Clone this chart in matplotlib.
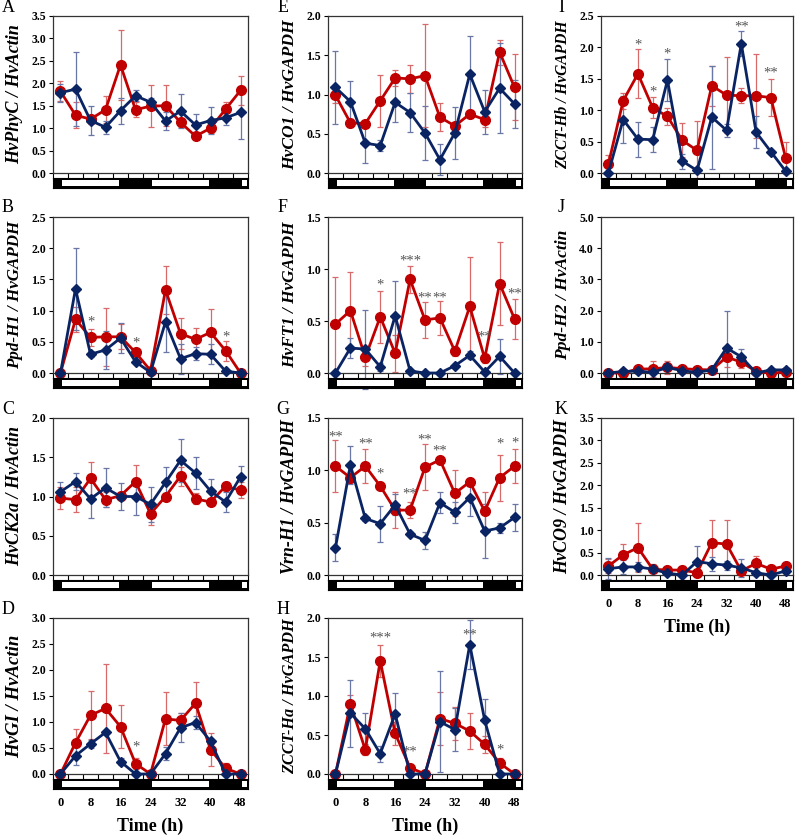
import matplotlib
matplotlib.use('Agg')
import matplotlib.pyplot as plt
from matplotlib.patches import Rectangle

plt.rcParams['font.family'] = ['Liberation Serif', 'DejaVu Serif']

# Sampling times (h) and light periods (start, end)
time_h = [0, 4, 8, 12, 16, 20, 24, 28, 32, 36, 40, 44, 48]
light_periods = [(0, 16), (24, 40), (48, 50)]

# A  HvPhyC / HvActin
A_red = [1.82, 1.29, 1.20, 1.41, 2.41, 1.41, 1.49, 1.50, 1.13, 0.82, 1.00, 1.42, 1.84]
A_red_err = [0.22, 0.29, 0.10, 0.30, 0.78, 0.17, 0.47, 0.46, 0.10, 0.05, 0.10, 0.17, 0.33]
A_blue = [1.79, 1.87, 1.17, 1.02, 1.39, 1.72, 1.58, 1.16, 1.38, 1.07, 1.17, 1.23, 1.35]
A_blue_err = [0.20, 0.82, 0.32, 0.14, 0.29, 0.12, 0.10, 0.21, 0.38, 0.24, 0.30, 0.17, 0.60]

# B  Ppd-H1 / HvGAPDH
B_red = [0.0, 0.86, 0.57, 0.58, 0.58, 0.33, 0.04, 1.33, 0.63, 0.54, 0.65, 0.36, 0.0]
B_red_err = [0.0, 0.20, 0.13, 0.46, 0.20, 0.05, 0.02, 0.38, 0.25, 0.18, 0.38, 0.16, 0.0]
B_blue = [0.0, 1.35, 0.30, 0.37, 0.56, 0.18, 0.01, 0.82, 0.23, 0.31, 0.30, 0.03, 0.0]
B_blue_err = [0.0, 0.66, 0.05, 0.30, 0.24, 0.04, 0.0, 0.48, 0.24, 0.10, 0.16, 0.02, 0.0]

# C  HvCK2a / HvActin
C_red = [0.98, 0.96, 1.23, 0.96, 1.01, 1.19, 0.78, 1.00, 1.26, 0.97, 0.93, 1.13, 1.08]
C_red_err = [0.14, 0.16, 0.21, 0.10, 0.05, 0.21, 0.14, 0.05, 0.12, 0.07, 0.04, 0.06, 0.10]
C_blue = [1.06, 1.19, 0.97, 1.11, 1.00, 1.00, 0.90, 1.18, 1.46, 1.30, 1.07, 0.93, 1.25]
C_blue_err = [0.12, 0.11, 0.24, 0.25, 0.17, 0.23, 0.22, 0.20, 0.27, 0.20, 0.15, 0.13, 0.14]

# D  HvGI / HvActin
D_red = [0.0, 0.60, 1.13, 1.26, 0.91, 0.20, 0.0, 1.06, 1.03, 1.36, 0.47, 0.11, 0.0]
D_red_err = [0.0, 0.27, 0.46, 0.85, 0.41, 0.10, 0.0, 0.51, 0.15, 0.40, 0.31, 0.10, 0.02]
D_blue = [0.0, 0.35, 0.58, 0.80, 0.24, 0.0, 0.0, 0.39, 0.89, 0.99, 0.63, 0.0, 0.0]
D_blue_err = [0.0, 0.17, 0.08, 0.02, 0.07, 0.0, 0.0, 0.12, 0.28, 0.12, 0.05, 0.0, 0.0]

# E  HvCO1 / HvGAPDH
E_red = [0.99, 0.64, 0.63, 0.92, 1.21, 1.20, 1.24, 0.71, 0.60, 0.75, 0.68, 1.54, 1.09]
E_red_err = [0.10, 0.05, 0.03, 0.33, 0.10, 0.18, 0.66, 0.18, 0.04, 0.05, 0.10, 0.16, 0.42]
E_blue = [1.09, 0.91, 0.38, 0.35, 0.90, 0.77, 0.51, 0.17, 0.51, 1.26, 0.78, 1.08, 0.88]
E_blue_err = [0.47, 0.26, 0.25, 0.07, 0.25, 0.25, 0.34, 0.20, 0.33, 0.48, 0.28, 0.57, 0.31]

# F  HvFT1 / HvGAPDH
F_red = [0.47, 0.60, 0.15, 0.54, 0.19, 0.90, 0.51, 0.53, 0.21, 0.64, 0.14, 0.86, 0.52]
F_red_err = [0.45, 0.37, 0.08, 0.25, 0.18, 0.13, 0.17, 0.16, 0.05, 0.48, 0.04, 0.40, 0.19]
F_blue = [0.0, 0.24, 0.23, 0.06, 0.55, 0.02, 0.0, 0.0, 0.07, 0.17, 0.01, 0.16, 0.0]
F_blue_err = [0.0, 0.10, 0.38, 0.04, 0.33, 0.01, 0.0, 0.0, 0.02, 0.04, 0.01, 0.17, 0.0]

# G  Vrn-H1 / HvGAPDH
G_red = [1.04, 0.93, 1.04, 0.85, 0.62, 0.62, 1.03, 1.10, 0.78, 0.89, 0.61, 0.93, 1.04]
G_red_err = [0.25, 0.05, 0.16, 0.03, 0.17, 0.08, 0.22, 0.03, 0.22, 0.04, 0.18, 0.22, 0.16]
G_blue = [0.26, 1.05, 0.54, 0.49, 0.67, 0.39, 0.33, 0.69, 0.60, 0.74, 0.42, 0.45, 0.55]
G_blue_err = [0.13, 0.18, 0.02, 0.17, 0.10, 0.02, 0.08, 0.10, 0.10, 0.18, 0.26, 0.05, 0.13]

# H  ZCCT-Ha / HvGAPDH
H_red = [0.0, 0.90, 0.31, 1.45, 0.52, 0.08, 0.0, 0.71, 0.65, 0.55, 0.38, 0.14, 0.0]
H_red_err = [0.0, 0.11, 0.06, 0.21, 0.15, 0.05, 0.0, 0.34, 0.21, 0.23, 0.11, 0.06, 0.03]
H_blue = [0.0, 0.78, 0.58, 0.26, 0.77, 0.0, 0.0, 0.67, 0.57, 1.66, 0.69, 0.0, 0.0]
H_blue_err = [0.0, 0.43, 0.20, 0.10, 0.27, 0.0, 0.0, 0.65, 0.28, 0.31, 0.27, 0.0, 0.0]

# I  ZCCT-Hb / HvGAPDH
I_red = [0.14, 1.15, 1.58, 1.04, 0.90, 0.52, 0.36, 1.39, 1.24, 1.23, 1.23, 1.20, 0.24]
I_red_err = [0.15, 0.13, 0.39, 0.17, 0.13, 0.27, 0.47, 0.32, 0.61, 0.12, 0.67, 0.30, 0.26]
I_blue = [0.0, 0.85, 0.54, 0.53, 1.48, 0.19, 0.04, 0.89, 0.68, 2.06, 0.65, 0.34, 0.03]
I_blue_err = [0.0, 0.37, 0.28, 0.20, 0.33, 0.12, 0.02, 0.82, 0.10, 0.20, 0.25, 0.03, 0.02]

# J  Ppd-H2 / HvActin
J_red = [0.0, 0.0, 0.13, 0.13, 0.18, 0.14, 0.11, 0.10, 0.51, 0.35, 0.05, 0.0, 0.03]
J_red_err = [0.0, 0.02, 0.05, 0.25, 0.22, 0.05, 0.04, 0.05, 0.31, 0.18, 0.03, 0.02, 0.03]
J_blue = [0.0, 0.05, 0.06, 0.02, 0.18, 0.07, 0.02, 0.10, 0.80, 0.52, 0.0, 0.10, 0.10]
J_blue_err = [0.0, 0.02, 0.03, 0.02, 0.05, 0.03, 0.01, 0.05, 1.20, 0.25, 0.0, 0.05, 0.05]

# K  HvCO9 / HvGAPDH
K_red = [0.20, 0.45, 0.61, 0.13, 0.11, 0.11, 0.05, 0.72, 0.69, 0.09, 0.26, 0.13, 0.20]
K_red_err = [0.15, 0.25, 0.54, 0.12, 0.05, 0.10, 0.02, 0.51, 0.53, 0.05, 0.17, 0.10, 0.10]
K_blue = [0.14, 0.18, 0.18, 0.13, 0.04, 0.0, 0.30, 0.25, 0.22, 0.16, 0.05, 0.0, 0.09]
K_blue_err = [0.24, 0.16, 0.10, 0.05, 0.02, 0.0, 0.35, 0.16, 0.10, 0.20, 0.02, 0.0, 0.04]

# significance marks: (time, y, text)
B_stars = [(8, 0.89, '*'), (20, 0.55, '*'), (44, 0.65, '*')]
D_stars = [(20, 0.59, '*')]
F_stars = [(12, 0.89, '*'), (20, 1.12, '***'), (24, 0.76, '**'), (28, 0.76, '**'),
           (40, 0.39, '**'), (48, 0.80, '**')]
G_stars = [(0, 1.36, '**'), (8, 1.29, '**'), (12, 1.00, '*'), (20, 0.81, '**'),
           (24, 1.33, '**'), (28, 1.22, '**'), (44, 1.29, '*'), (48, 1.30, '*')]
H_stars = [(12, 1.80, '***'), (20, 0.34, '**'), (36, 1.84, '**'), (44, 0.36, '*')]
I_stars = [(8, 2.10, '*'), (12, 1.35, '*'), (16, 1.96, '*'), (36, 2.39, '**'), (44, 1.66, '**')]

FIG_W, FIG_H = 797, 835
col_left = [53, 328, 601]
col_right = [248, 522, 793]
row_top = [16, 217, 418, 618]
row_bot = [173, 373, 575, 774]
letter_x = [8, 283, 561]

RED = '#c00000'
BLUE = '#0a2463'
RED_ERR = '#d96a6a'
BLUE_ERR = '#6877a6'

# letter, row, col, ylabel, label length (px), ymax, ystep, series..., stars, time label
panels = [
    ('A', 0, 0, 'HvPhyC / HvActin', 140, 3.5, 0.5, A_red, A_red_err, A_blue, A_blue_err, [], False),
    ('B', 1, 0, 'Ppd-H1 / HvGAPDH', 148, 2.5, 0.5, B_red, B_red_err, B_blue, B_blue_err, B_stars, False),
    ('C', 2, 0, 'HvCK2a / HvActin', 140, 2.0, 0.5, C_red, C_red_err, C_blue, C_blue_err, [], False),
    ('D', 3, 0, 'HvGI / HvActin', 135, 3.0, 0.5, D_red, D_red_err, D_blue, D_blue_err, D_stars, True),
    ('E', 0, 1, 'HvCO1 / HvGAPDH', 150, 2.0, 0.5, E_red, E_red_err, E_blue, E_blue_err, [], False),
    ('F', 1, 1, 'HvFT1 / HvGAPDH', 146, 1.5, 0.5, F_red, F_red_err, F_blue, F_blue_err, F_stars, False),
    ('G', 2, 1, 'Vrn-H1 / HvGAPDH', 154, 1.5, 0.5, G_red, G_red_err, G_blue, G_blue_err, G_stars, False),
    ('H', 3, 1, 'ZCCT-Ha / HvGAPDH', 155, 2.0, 0.5, H_red, H_red_err, H_blue, H_blue_err, H_stars, True),
    ('I', 0, 2, 'ZCCT-Hb / HvGAPDH', 148, 2.5, 0.5, I_red, I_red_err, I_blue, I_blue_err, I_stars, False),
    ('J', 1, 2, 'Ppd-H2 / HvActin', 130, 5.0, 1.0, J_red, J_red_err, J_blue, J_blue_err, [], False),
    ('K', 2, 2, 'HvCO9 / HvGAPDH', 155, 3.5, 0.5, K_red, K_red_err, K_blue, K_blue_err, [], True),
]

fig = plt.figure(figsize=(FIG_W / 100, FIG_H / 100), dpi=100)


def add_ax(left, top, right, bottom):
    return fig.add_axes([left / FIG_W, 1 - bottom / FIG_H,
                         (right - left) / FIG_W, (bottom - top) / FIG_H])


ylabels = []
for (letter, r, c, ylabel, label_len, ymax, ystep, red, red_err, blue, blue_err,
     stars, time_label) in panels:
    left, right = col_left[c], col_right[c]
    top, bot = row_top[r], row_bot[r]
    ax = add_ax(left, top, right, bot)

    ax.errorbar(time_h, red, yerr=red_err, fmt='none', ecolor=RED_ERR,
                elinewidth=0.9, capsize=2.4, capthick=0.9, clip_on=False, zorder=2)
    ax.errorbar(time_h, blue, yerr=blue_err, fmt='none', ecolor=BLUE_ERR,
                elinewidth=0.9, capsize=2.4, capthick=0.9, clip_on=False, zorder=2)
    ax.plot(time_h, red, color=RED, lw=2.0, marker='o', ms=7,
            clip_on=False, zorder=3)
    ax.plot(time_h, blue, color=BLUE, lw=2.0, marker='D', ms=4.8,
            clip_on=False, zorder=4)

    for tx, ty, txt in stars:
        ax.annotate(txt, (tx, ty), xytext=(0, -3), textcoords='offset points',
                    ha='center', va='center', fontsize=10.5, color='#555555')

    ax.set_xlim(-2, 50)
    ax.set_ylim(0, ymax)
    n = int(round(ymax / ystep))
    ax.set_yticks([i * ystep for i in range(n + 1)])
    ax.set_yticklabels(['%.1f' % (i * ystep) for i in range(n + 1)],
                       fontsize=8.5, fontweight='bold')
    ax.set_xticks(list(range(-2, 51, 4)))
    ax.set_xticklabels([])
    ax.tick_params(axis='y', direction='out', length=3, width=0.8, pad=2)
    ax.tick_params(axis='x', direction='out', length=4, width=0.8)
    for sp in ax.spines.values():
        sp.set_linewidth(0.9)
        sp.set_color('#333333')
    lab = ax.set_ylabel(ylabel, fontsize=12, fontweight='bold', style='italic')
    ax.yaxis.set_label_coords(-30 / (right - left), 0.5)
    ylabels.append((lab, label_len))

    fig.text(letter_x[c] / FIG_W, 1 - (top - 9) / FIG_H, letter,
             fontsize=13, ha='center', va='center')

    # light / dark strip
    sx = add_ax(left, bot + 5, right, bot + 15)
    sx.set_facecolor('black')
    for a, b in light_periods:
        sx.add_patch(Rectangle((a + 0.4, 0.18), b - a - 0.8, 0.64,
                               facecolor='white', edgecolor='none'))
    sx.set_xlim(-2, 50)
    sx.set_ylim(0, 1)
    sx.set_yticks([])
    for sp in sx.spines.values():
        sp.set_linewidth(0.8)
    if time_label:
        sx.set_xticks(list(range(0, 49, 8)))
        sx.set_xticklabels([str(t) for t in range(0, 49, 8)],
                           fontsize=9, fontweight='bold')
        sx.tick_params(axis='x', length=0, pad=6)
        sx.set_xlabel('Time (h)', fontsize=13, fontweight='bold', labelpad=6)
    else:
        sx.set_xticks([])

# scale each y label so its length matches the reference
fig.canvas.draw()
renderer = fig.canvas.get_renderer()
for lab, target in ylabels:
    h = lab.get_window_extent(renderer).height
    lab.set_fontsize(min(13.5, 12 * target / h))

fig.savefig('out.png', dpi=100)
